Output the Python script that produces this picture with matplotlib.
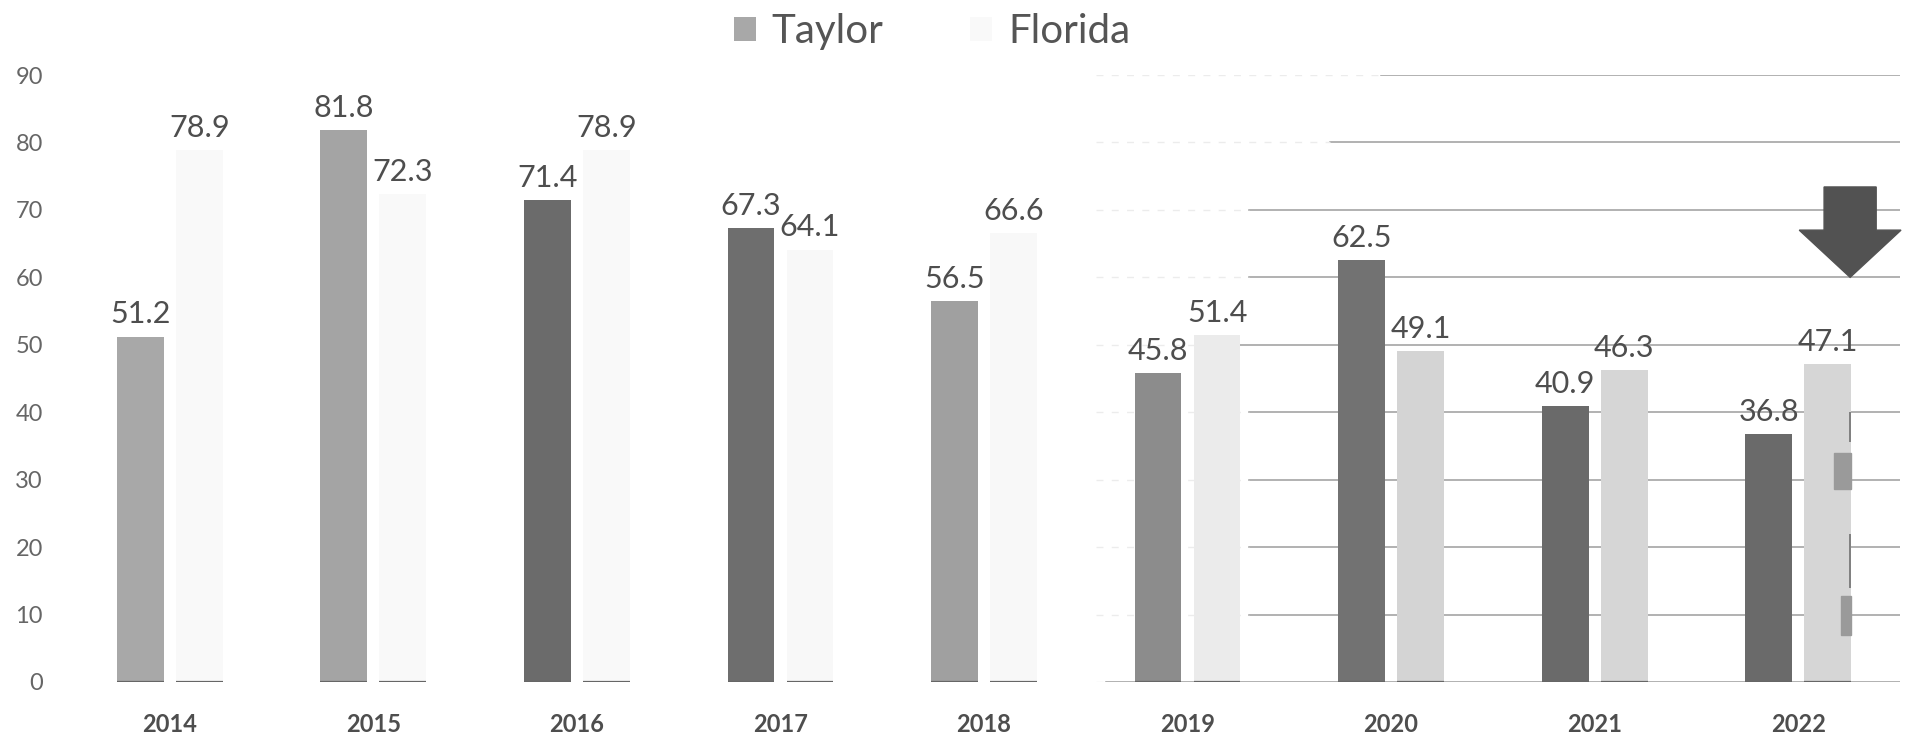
import matplotlib
matplotlib.use("Agg")
import matplotlib.pyplot as plt
from matplotlib.patches import FancyArrow, Rectangle
import numpy as np

plt.rcParams['font.family'] = ['Lato', 'DejaVu Sans']

# data
years = ['2014', '2015', '2016', '2017', '2018', '2019', '2020', '2021', '2022']
taylor = [51.2, 81.8, 71.4, 67.3, 56.5, 45.8, 62.5, 40.9, 36.8]
florida = [78.9, 72.3, 78.9, 64.1, 66.6, 51.4, 49.1, 46.3, 47.1]

# bar shades
taylor_colors = ['#a8a8a8', '#a4a4a4', '#6b6b6b', '#6e6e6e', '#a0a0a0',
                 '#8c8c8c', '#727272', '#6a6a6a', '#6a6a6a']
florida_colors = ['#f9f9f9', '#f9f9f9', '#f9f9f9', '#f8f8f8', '#f8f8f8',
                  '#ebebeb', '#d4d4d4', '#d6d6d6', '#d6d6d6']

fig = plt.figure(figsize=(19.1, 7.37), dpi=100)
ax = fig.add_axes([68 / 1910, 55 / 737, 1832 / 1910, 607 / 737])

x = np.arange(len(years))
w = 0.23
off = 0.145

# grid only shows on the right-hand part
grid_levels = [0, 10, 20, 30, 40, 50, 60, 70, 80, 90]
grid_start = [4.6, 5.3, 5.3, 5.3, 5.3, 5.25, 5.3, 5.3, 5.7, 5.95]
for lvl, xs in zip(grid_levels, grid_start):
    ax.plot([xs, 8.5], [lvl, lvl], color='#9c9c9c', lw=1.1, zorder=0)
    ax.plot([4.55, xs], [lvl, lvl], color='#ececec', lw=1.0, ls=(0, (5, 6)), zorder=0)

b1 = ax.bar(x - off, taylor, w, color=taylor_colors, label='Taylor', zorder=2)
b2 = ax.bar(x + off, florida, w, color=florida_colors, label='Florida', zorder=2)

# dark foot under each bar
ax.hlines(np.zeros(len(x)), x - off - w / 2, x - off + w / 2, color='#666666', lw=1.6, zorder=3)
ax.hlines(np.zeros(len(x)), x + off - w / 2, x + off + w / 2, color='#666666', lw=1.6, zorder=3)

for xi, v in zip(x - off, taylor):
    ax.annotate(f'{v}', (xi, v), xytext=(0, 16), textcoords='offset points',
                ha='center', va='center', fontsize=22, color='#4e4e4e', zorder=4)
for xi, v in zip(x + off, florida):
    ax.annotate(f'{v}', (xi, v), xytext=(0, 16), textcoords='offset points',
                ha='center', va='center', fontsize=22, color='#4e4e4e', zorder=4)

# down arrow over the last Florida bar
xa = x[-1] + off + 0.11
ax.add_patch(FancyArrow(xa, 73.4, 0, -13.4, width=0.256, head_width=0.5,
                        head_length=7, length_includes_head=True,
                        color='#525252', zorder=5, clip_on=False))
ax.add_patch(Rectangle((x[-1] + off + 0.03, 28.6), 0.083, 5.4, color='#9a9a9a', zorder=4))
ax.add_patch(Rectangle((x[-1] + off + 0.063, 7.0), 0.05, 5.7, color='#9a9a9a', zorder=4))
ax.vlines([xa, xa], [35.6, 14], [40, 22], color='#707070', lw=1.2, zorder=4)

ax.set_xlim(-0.5, 8.5)
ax.set_ylim(0, 90)
ax.set_yticks(range(0, 91, 10))
ax.set_xticks(x)
ax.set_xticklabels(years, fontsize=17, fontweight='bold', color='#4e4e4e')
ax.tick_params(axis='y', length=0, pad=18, labelsize=17, labelcolor='#666666')
ax.tick_params(axis='x', length=0, pad=22)
for s in ax.spines.values():
    s.set_visible(False)

fig.legend(handles=[b1, b2], loc='center', bbox_to_anchor=(0.488, 0.957),
           ncol=2, frameon=False, fontsize=29, handlelength=0.55, handleheight=0.55,
           handletextpad=0.4, columnspacing=2.15, labelcolor='#555555')

plt.savefig('out.png', dpi=100)
